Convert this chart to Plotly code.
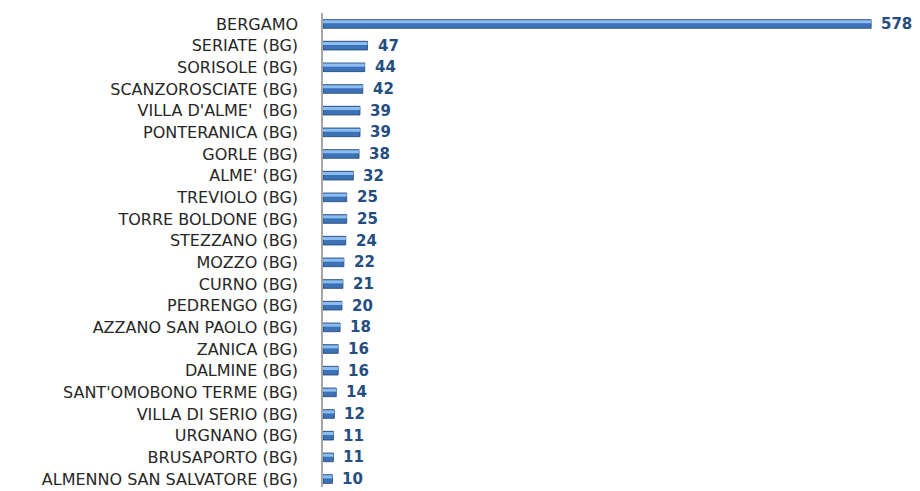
import plotly.graph_objects as go

comuni = ["BERGAMO", "SERIATE (BG)", "SORISOLE (BG)", "SCANZOROSCIATE (BG)", "VILLA D'ALME'  (BG)",
          "PONTERANICA (BG)", "GORLE (BG)", "ALME' (BG)", "TREVIOLO (BG)", "TORRE BOLDONE (BG)",
          "STEZZANO (BG)", "MOZZO (BG)", "CURNO (BG)", "PEDRENGO (BG)", "AZZANO SAN PAOLO (BG)",
          "ZANICA (BG)", "DALMINE (BG)", "SANT'OMOBONO TERME (BG)", "VILLA DI SERIO (BG)",
          "URGNANO (BG)", "BRUSAPORTO (BG)", "ALMENNO SAN SALVATORE (BG)"]
valori = [578, 47, 44, 42, 39, 39, 38, 32, 25, 25, 24, 22, 21, 20, 18, 16, 16, 14, 12, 11, 11, 10]

labels_disp = [c.replace("  ", "\u00a0\u00a0") for c in comuni]
n = len(comuni)
idx = list(range(n))

fig = go.Figure()
# base bar (body)
fig.add_trace(go.Bar(
    y=idx, x=valori, orientation="h", width=0.40,
    marker=dict(color="#3C72B8", line=dict(color="#21446F", width=0.8)),
    hoverinfo="skip", showlegend=False))
# highlight (top bevel)
fig.add_trace(go.Bar(
    y=idx, x=valori, orientation="h", width=0.14, offset=-0.17,
    marker=dict(color="#8CBDF0", line=dict(width=0)),
    hoverinfo="skip", showlegend=False))

for i, v in enumerate(valori):
    fig.add_annotation(x=v, y=i, text=f"<b>{v}</b>", showarrow=False,
                       xanchor="left", xshift=8,
                       font=dict(family="DejaVu Sans, sans-serif", size=15, color="#244D80"))

fig.update_layout(
    width=912, height=483,
    margin=dict(l=315, r=28, t=5, b=2),
    paper_bgcolor="white", plot_bgcolor="white",
    barmode="overlay", showlegend=False,
    xaxis=dict(range=[0, 600], visible=False, fixedrange=True),
    yaxis=dict(range=[n - 1 + 0.368, -0.506], tickmode="array", tickvals=idx, ticktext=labels_disp,
               showline=True, linecolor="#A6A6A6", linewidth=1.5, ticks="",
               showgrid=False, zeroline=False, ticklabelstandoff=20,
               tickfont=dict(family="DejaVu Sans, sans-serif", size=16, color="#262626")),
)
fig.write_html("out.html")
